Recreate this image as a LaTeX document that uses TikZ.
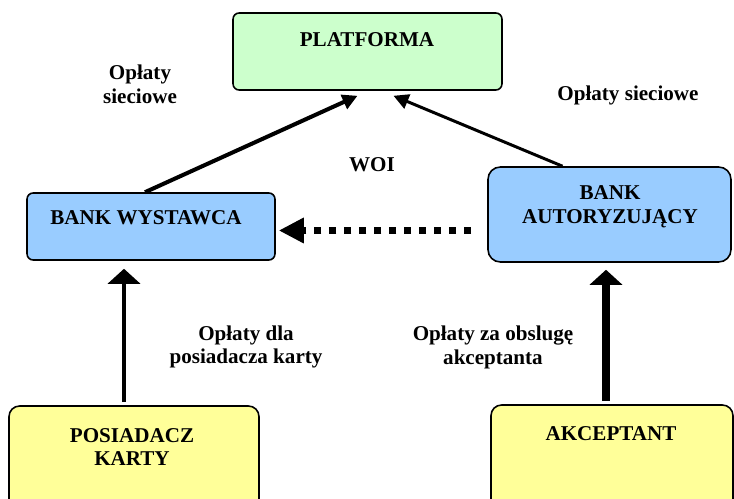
\documentclass[tikz,border=0pt]{standalone}
\usepackage{fontspec}
\setmainfont{Liberation Serif}
\usetikzlibrary{calc,positioning,arrows.meta}
\definecolor{platgreen}{HTML}{CCFFCC}
\definecolor{bankblue}{HTML}{99CCFF}
\definecolor{useryellow}{HTML}{FFFF99}
\tikzset{
    box/.style={draw, line width=0.9pt, rounded corners=3.5pt, inner sep=0pt},
    txt/.style={font=\fontsize{12}{13.6}\selectfont\bfseries, align=center, inner sep=0pt},
    flow/.style={-{Triangle[length=0.3cm,width=0.3cm]}},
    upflow/.style={-{Triangle[length=0.3cm,width=0.64cm]}},
}

\begin{document}
\begin{tikzpicture}[x=0.02cm, y=-0.02cm]
    \useasboundingbox (0,0) rectangle (734,499);
    \clip (0,0) rectangle (734,499);
    \node [box, fill=platgreen, minimum width=5.38cm, minimum height=1.54cm] (plat) at (367.5, 51.5) {};
        \node [box, fill=bankblue, minimum width=4.96cm, minimum height=1.34cm] (wyst) at (151, 226.5) {};
        \node [box, fill=bankblue, rounded corners=7pt, minimum width=4.86cm, minimum height=1.9cm] (aut) at (609.5, 214.5) {};
        \node [box, fill=useryellow, rounded corners=6pt, minimum width=5cm, minimum height=2.28cm] (posi) at (134, 463) {};
        \node [box, fill=useryellow, rounded corners=6pt, minimum width=4.84cm, minimum height=2.3cm] (akc) at (612, 462.5) {};
    \node [txt] at (367, 40) {PLATFORMA};
    \node [txt] at (146, 218) {BANK WYSTAWCA};
    \node [txt] at (610, 207) {BANK\\AUTORYZUJĄCY};
    \node [txt] at (132, 447) {POSIADACZ\\KARTY};
    \node [txt] at (611, 434) {AKCEPTANT};
    \draw [flow, line width=2.3pt] ($(wyst.north)+(-6,0)$) -- ($(plat.south)+(-10,5)$);
    \draw [flow, line width=1.7pt] ($(aut.north)+(-47,0)$) -- ($(plat.south)+(26,5)$);
    \draw [line width=4pt, dash pattern=on 0.14cm off 0.16cm, -{Triangle[length=0.5cm,width=0.48cm]}] ($(aut.west)+(-16,16)$) -- ($(wyst.east)+(3,4)$);
    \draw [upflow, line width=2.8pt] ($(posi.north)+(-10,-3)$) -- ($(wyst.south)+(-27,8)$);
    \draw [upflow, line width=4pt] ($(akc.north)+(-6,-3)$) -- ($(aut.south)+(-3.5,7)$);
    \node [txt] at (140, 84) {Opłaty\\sieciowe};
    \node [txt] at (628, 95) {Opłaty sieciowe};
    \node [txt] at (372, 165) {WOI};
    \node [txt] at (246, 347) {Opłaty dla\\posiadacza karty};
    \node [txt] at (493, 347) {Opłaty za obslugę\\akceptanta};
\end{tikzpicture}
\end{document}
